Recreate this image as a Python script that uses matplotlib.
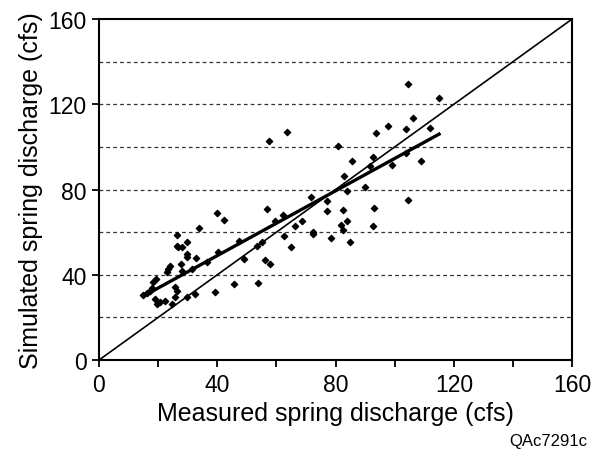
import matplotlib.pyplot as plt
import numpy as np

plt.rcParams['font.family'] = ['Liberation Sans', 'DejaVu Sans']

# measured vs simulated spring discharge (cfs)
measured = [14.9, 16.1, 17.3, 17.8, 18.4, 19.2, 19.5, 20.6, 22.3, 22.9,
            23.5, 24.0, 25.7, 26.3, 25.7, 26.3, 26.3, 26.8, 27.6, 28.0,
            29.7, 29.7, 29.9, 29.7, 31.4, 32.5, 32.9, 33.8, 36.4, 39.2,
            40.0, 42.3, 40.4, 45.7, 47.4, 49.0, 53.6, 53.8, 55.2, 56.2,
            57.8, 56.9, 57.6, 59.5, 62.4, 62.7, 63.5, 65.0, 66.2, 68.6,
            71.6, 72.3, 72.3, 77.0, 77.2, 78.4, 80.7, 82.6, 81.9, 82.6,
            82.9, 83.8, 84.0, 84.9, 85.6, 90.0, 91.7, 92.6, 92.8, 93.1,
            93.6, 97.9, 99.0, 103.9, 103.9, 104.6, 104.6, 106.2, 108.8, 112.0,
            115.1, 19.0, 24.6, 28.0]
simulated = [30.5, 31.4, 32.5, 34.0, 36.5, 38.0, 26.3, 27.2, 27.8, 41.1,
             42.7, 44.3, 34.1, 32.5, 29.4, 58.7, 53.6, 52.9, 45.0, 41.9,
             55.5, 49.7, 48.2, 29.4, 42.7, 31.0, 47.9, 62.0, 45.8, 31.8,
             68.8, 65.8, 50.5, 35.7, 56.0, 47.4, 53.6, 36.1, 55.5, 46.9,
             45.0, 71.0, 102.6, 65.4, 68.2, 58.3, 106.8, 52.9, 63.1, 65.2,
             76.7, 60.1, 59.2, 74.8, 70.1, 57.2, 100.2, 70.5, 63.5, 61.1,
             86.2, 65.4, 79.3, 55.5, 93.4, 81.0, 91.2, 95.4, 62.7, 71.5,
             106.5, 109.6, 91.5, 97.0, 108.2, 129.7, 75.1, 113.4, 93.4, 108.7,
             123.1, 28.6, 26.3, 52.9]

# regression line end points
fit_x = [15, 115]
fit_y = [30, 106]

fig = plt.figure(figsize=(5.96, 4.60), dpi=100)
ax = fig.add_axes([0.166, 0.215, 0.794, 0.7415])

for g in range(20, 160, 20):
    ax.axhline(g, color='#333333', lw=0.9, ls=(0, (3, 2.5)), zorder=1)

ax.plot([0, 160], [0, 160], color='black', lw=1.2, zorder=2)
ax.plot(fit_x, fit_y, color='black', lw=2.4, zorder=2)
ax.scatter(measured, simulated, marker='D', s=10, color='black', zorder=3)

ax.set_xlim(0, 160)
ax.set_ylim(0, 160)
ax.set_xticks(np.arange(0, 161, 20))
ax.set_xticklabels(['0', '', '40', '', '80', '', '120', '', '160'])
ax.set_yticks(np.arange(0, 161, 40))
ax.tick_params(direction='out', length=5, width=1.3, labelsize=16.5, pad=4)
for s in ax.spines.values():
    s.set_linewidth(1.5)

ax.set_xlabel('Measured spring discharge (cfs)', fontsize=18, labelpad=4)
ax.set_ylabel('Simulated spring discharge (cfs)', fontsize=18, labelpad=4)
fig.text(0.985, 0.04, 'QAc7291c', ha='right', va='center', fontsize=12)

fig.savefig('out.png', dpi=100)
